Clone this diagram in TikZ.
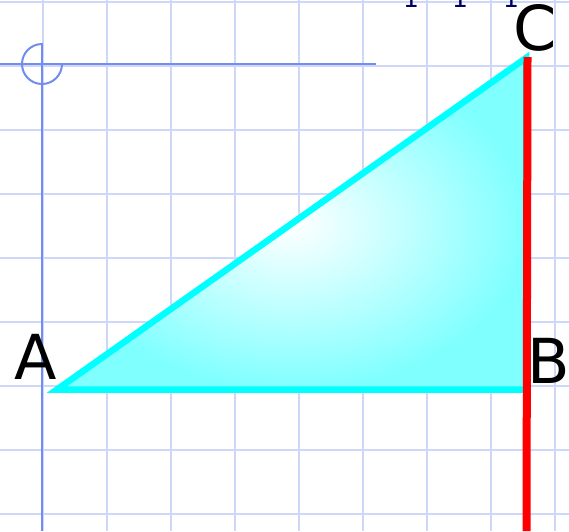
\documentclass[tikz,border=0pt]{standalone}
\usepackage{fontspec}
\setmainfont{DejaVu Sans}
\definecolor{gridc}{RGB}{206,215,245}
\definecolor{axisc}{RGB}{115,140,240}
\definecolor{navyc}{RGB}{0,0,102}
\definecolor{cyanc}{RGB}{0,255,255}
\definecolor{cyanlight}{RGB}{128,255,255}
\definecolor{redc}{RGB}{255,0,0}
\begin{document}
\begin{tikzpicture}[x=1pt,y=-1pt,
  gridline/.style={draw=gridc,line width=2pt},
  axisline/.style={draw=axisc,line width=2pt},
  ticklabel/.style={text=navyc,inner sep=0pt,anchor=base,font=\fontsize{25}{25}\selectfont},
  vertexlabel/.style={text=black,inner sep=0pt,anchor=base west,font=\fontsize{62}{62}\selectfont},
  triside/.style={draw=cyanc,line width=6.5pt,line join=miter},
  redline/.style={draw=redc,line width=8pt,line cap=butt}]
\useasboundingbox (0,0) rectangle (569,531);
\fill[white] (0,0) rectangle (569,531);
\begin{scope}
  \clip (0,0) rectangle (569,531);
  \foreach \x in {43,107,...,555} \draw[gridline] (\x,0) -- (\x,531);
  \foreach \y in {2,66,...,514} \draw[gridline] (0,\y) -- (569,\y);
  \coordinate (O) at (42,64);
  \coordinate (Xend) at (376,64);
  \coordinate (Xstart) at (0,64);
  \coordinate (Ytop) at (42,43);
  \coordinate (Ybot) at (42,531);
  \draw[axisline] (Xstart) -- (Xend);
  \draw[axisline] (Ytop) -- (Ybot);
  \draw[axisline] (42,44) arc[start angle=90,end angle=360,radius=20pt];
  \node[ticklabel] (t1) at (411,7.3) {1};
  \node[ticklabel] (t2) at (460,7.3) {1};
  \node[ticklabel] (t3) at (511,7.3) {1};
\end{scope}
\coordinate (A) at (57,389.5);
\coordinate (B) at (526,389.5);
\coordinate (C) at (526,58);
\shade[inner color=white,outer color=cyanlight] (A) -- (B) -- (C) -- cycle;
\draw[triside] (A) -- (B) -- (C) -- cycle;
\coordinate (R1) at (527.5,57);
\coordinate (R2) at (526.5,531);
\draw[redline] (R1) -- (R2);
\node[vertexlabel] (LA) at (14.5,379) {A};
\node[vertexlabel] (LB) at (527,383) {B};
\node[vertexlabel] (LC) at (513.5,50) {C};
\end{tikzpicture}
\end{document}
